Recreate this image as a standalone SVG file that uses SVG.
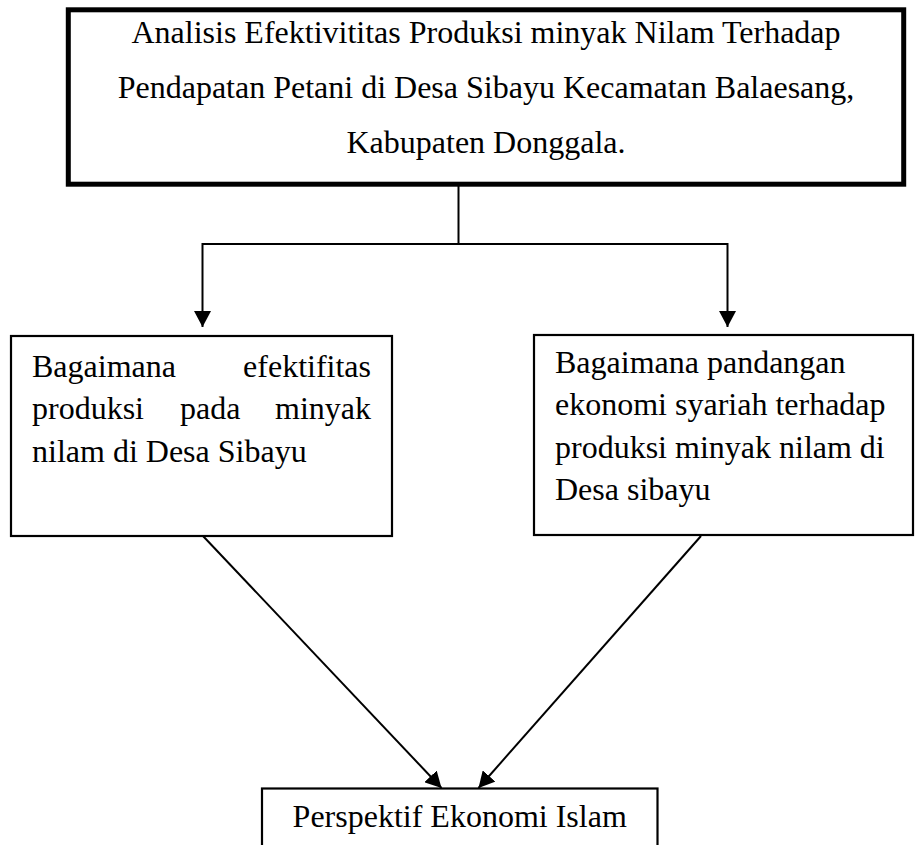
<svg xmlns="http://www.w3.org/2000/svg" width="916" height="845" viewBox="0 0 916 845">
<style>
  .t { font-family: "Liberation Serif", "Times New Roman", serif; font-size: 32px; fill: #000; }
  .box { fill: #fff; stroke: #000; stroke-width: 2.2; }
  .main { fill: #fff; stroke: #000; stroke-width: 5; }
  .conn { fill: none; stroke: #000; stroke-width: 2; }
</style>
<defs>
  <marker id="arr" markerUnits="userSpaceOnUse" markerWidth="17" markerHeight="17" refX="16" refY="8.5" orient="auto">
    <path d="M0,0 L16,8.5 L0,17 z" fill="#000"/>
  </marker>
</defs>
<rect width="916" height="845" fill="#fff"/>
<g id="connectors">
  <path class="conn" d="M458.5,184 V244"/>
  <path class="conn" d="M202.5,244 H727.5"/>
  <path class="conn" d="M202.5,243 V327" marker-end="url(#arr)"/>
  <path class="conn" d="M727.5,243 V327" marker-end="url(#arr)"/>
  <path class="conn" d="M203,536 L441.5,788" marker-end="url(#arr)"/>
  <path class="conn" d="M701,536 L478.5,788" marker-end="url(#arr)"/>
</g>
<g id="node-title">
  <rect class="main" x="68.3" y="9.8" width="835.4" height="174.4"/>
  <text class="t" x="486" y="43" text-anchor="middle">Analisis Efektivititas Produksi minyak Nilam Terhadap</text>
  <text class="t" x="486" y="98" text-anchor="middle">Pendapatan Petani di Desa Sibayu Kecamatan Balaesang,</text>
  <text class="t" x="486" y="153" text-anchor="middle">Kabupaten Donggala.</text>
</g>
<g id="node-left">
  <rect class="box" x="11" y="336" width="381" height="200"/>
  <text class="t" x="32" y="377">Bagaimana</text>
  <text class="t" x="371" y="377" text-anchor="end">efektifitas</text>
  <text class="t" x="32" y="419">produksi</text>
  <text class="t" x="180" y="419">pada</text>
  <text class="t" x="371" y="419" text-anchor="end">minyak</text>
  <text class="t" x="32" y="462">nilam di Desa Sibayu</text>
</g>
<g id="node-right">
  <rect class="box" x="534" y="335" width="379" height="200"/>
  <text class="t" x="555" y="373">Bagaimana pandangan</text>
  <text class="t" x="555" y="415">ekonomi syariah terhadap</text>
  <text class="t" x="555" y="458">produksi minyak nilam di</text>
  <text class="t" x="555" y="500">Desa sibayu</text>
</g>
<g id="node-bottom">
  <rect class="box" x="262" y="788.5" width="395.5" height="70"/>
  <text class="t" x="459.7" y="827" text-anchor="middle">Perspektif Ekonomi Islam</text>
</g>
</svg>
